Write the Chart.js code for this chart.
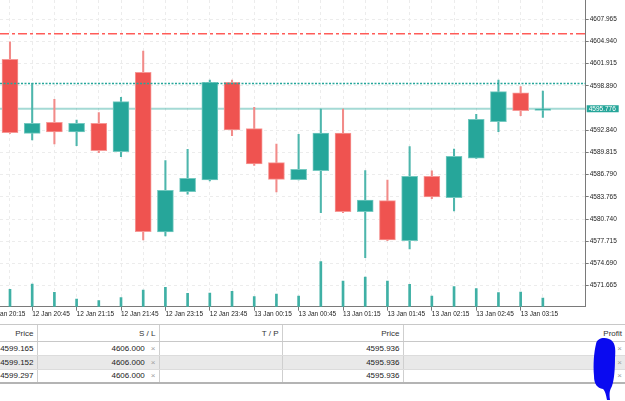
<!DOCTYPE html>
<html>
<head>
<meta charset="utf-8">
<script src="https://cdn.jsdelivr.net/npm/chart.js@4.4.1/dist/chart.umd.min.js"></script>
<style>
  body { margin: 0; width: 625px; height: 401px; overflow: hidden; background: #fff; }
  #wrap { position: relative; width: 625px; height: 324px; }
  #orders { position: absolute; left: 0; top: 324px; width: 625px; border-collapse: collapse; table-layout: fixed;
            font-family: "Liberation Sans", Arial, sans-serif; font-size: 8px; color: #222; }
  #orders th, #orders td { padding: 0 3px 0 0; text-align: right; white-space: nowrap; overflow: hidden;
            border-left: 1px solid #cfcfcf; border-bottom: 1px solid #dcdcdc; }
  #orders th:first-child, #orders td:first-child { border-left: none; }
  #orders th { font-weight: normal; height: 16px; border-top: 1px solid #c8c8c8; border-bottom: 1px solid #c8c8c8; color: #333; }
  #orders td { height: 12.8px; }
  #orders tr.alt td { background: #e9e9e9; }
  #orders tr:last-child td { border-bottom: 2px solid #b4b4b4; }
  .x { color: #a0a0a0; margin-left: 6px; }
  #blot { position: absolute; left: 590px; top: 336px; }
</style>
</head>
<body>
<div id="wrap"><canvas id="price_chart" width="625" height="324"></canvas></div>
<table id="orders">
  <colgroup><col style="width:37px"><col style="width:122px"><col style="width:123px"><col style="width:121px"><col style="width:222px"></colgroup>
  <thead><tr><th>Price</th><th>S / L</th><th>T / P</th><th>Price</th><th>Profit</th></tr></thead>
  <tbody id="order_rows"></tbody>
</table>
<svg id="blot" width="30" height="66" viewBox="0 0 30 66">
  <path d="M6 8 C7 2 14 1 19 3 C25 5 26 12 25 22 C25 34 24 44 22 50 C20 54 19 56 20 64 L17 64 C16 58 15 55 13 53 C7 52 4 48 4 40 C3 28 4 16 6 8 Z" fill="#0a0af0"/>
</svg>
<script>
// 15 minute slots, candle i sits in slot i + 1
const slots = ['12 Jan 20:15', '12 Jan 20:30', '12 Jan 20:45', '12 Jan 21:00', '12 Jan 21:15', '12 Jan 21:30',
    '12 Jan 21:45', '12 Jan 23:00', '12 Jan 23:15', '12 Jan 23:30', '12 Jan 23:45', '13 Jan 00:00', '13 Jan 00:15',
    '13 Jan 00:30', '13 Jan 00:45', '13 Jan 01:00', '13 Jan 01:15', '13 Jan 01:30', '13 Jan 01:45', '13 Jan 02:00',
    '13 Jan 02:15', '13 Jan 02:30', '13 Jan 02:45', '13 Jan 03:00', '13 Jan 03:15', '13 Jan 03:30']
const opens = [4602.52, 4592.43, 4593.93, 4592.61, 4593.79, 4589.92, 4600.74, 4578.98, 4584.47, 4586.07, 4599.38, 4593.06,
    4588.43, 4586.11, 4587.34, 4592.47, 4581.75, 4583.25, 4577.80, 4586.57, 4583.66, 4589.03, 4594.01, 4597.96, 4595.55]
const highs = [4604.91, 4599.24, 4597.06, 4594.24, 4595.24, 4597.34, 4603.65, 4588.70, 4590.25, 4599.69, 4599.69, 4595.97,
    4590.97, 4592.30, 4595.74, 4595.74, 4587.34, 4586.07, 4590.61, 4587.30, 4590.29, 4595.02, 4599.69, 4598.78, 4598.20]
const lows = [4592.40, 4591.52, 4590.97, 4590.74, 4589.79, 4589.24, 4577.89, 4578.44, 4584.12, 4585.93, 4592.10, 4588.04,
    4584.43, 4586.07, 4581.61, 4581.61, 4575.48, 4577.80, 4576.67, 4583.52, 4581.84, 4589.00, 4592.65, 4594.83, 4594.61]
const closes = [4592.51, 4593.79, 4592.61, 4593.79, 4590.06, 4596.74, 4579.02, 4584.67, 4586.30, 4599.38, 4592.88, 4588.25,
    4586.16, 4587.53, 4592.47, 4581.75, 4583.34, 4577.89, 4586.57, 4583.75, 4589.30, 4594.34, 4598.10, 4595.51, 4595.776]
const volumes = [174, 227, 144, 77, 60, 90, 167, 194, 134, 137, 154, 100, 127, 107, 450, 257, 297, 257, 224, 107, 200,
    180, 140, 147, 87]
const priceTicks = [4571.665, 4574.690, 4577.715, 4580.740, 4583.765, 4586.790, 4589.815, 4592.840, 4595.865,
    4598.890, 4601.915, 4604.940, 4607.965]
const stopLoss = 4606.0
const entryPrice = 4599.205
const lastPrice = 4595.776

const orderPrices = ['4599.165', '4599.152', '4599.297']
const orderSL = ['4606.000', '4606.000', '4606.000']
const orderTP = ['', '', '']
const orderNow = ['4595.936', '4595.936', '4595.936']

const up = '#26a69a', down = '#ef5350'
const xMin = -0.45, xMax = 25.93

let rows = ''
orderPrices.forEach((p, i) => {
    rows += '<tr' + (i === 1 ? ' class="alt"' : '') + '><td>' + p + '</td><td>' + orderSL[i] + '<span class="x">&#215;</span></td><td>' +
        orderTP[i] + '</td><td>' + orderNow[i] + '</td><td><span class="x">&#215;</span></td></tr>'
})
document.querySelector('#order_rows').innerHTML = rows

const idx = closes.map((c, i) => i)
const isUp = i => closes[i] >= opens[i]
const flat = v => [{x: xMin, y: v}, {x: xMax, y: v}]
const tickFont = {family: 'Liberation Sans', size: 6.5}

// price tag on the right axis
const lastTag = {
    id: 'lastTag',
    afterDraw(chart) {
        const ctx = chart.ctx
        const y = chart.scales.y.getPixelForValue(lastPrice)
        const x = chart.chartArea.right + 1
        ctx.save()
        ctx.fillStyle = up
        ctx.fillRect(x, y - 3.5, 32, 7)
        ctx.fillStyle = '#fff'
        ctx.font = '6.5px "Liberation Sans"'
        ctx.textBaseline = 'middle'
        ctx.fillText(lastPrice.toFixed(3), x + 2, y + 0.5)
        ctx.restore()
    }
}

let context = document.querySelector('#price_chart').getContext('2d')
new Chart(context, {
    type: 'bar',
    data: {
        datasets: [{
            data: idx.map(i => ({x: i, y: [opens[i], closes[i]]})),
            backgroundColor: idx.map(i => isUp(i) ? up : down),
            borderColor: idx.map(i => isUp(i) ? '#74c9c0' : '#f69896'),
            borderWidth: 1,
            borderSkipped: false,
            barThickness: 16,
            grouped: false,
            order: 1,
        }, {
            data: idx.map(i => ({x: i, y: [lows[i], highs[i]]})),
            backgroundColor: idx.map(i => isUp(i) ? '#4db6ac' : '#f28b89'),
            barThickness: 1.4,
            grouped: false,
            order: 2,
        }, {
            data: idx.map(i => ({x: i, y: volumes[i]})),
            backgroundColor: '#3fb0a5',
            barThickness: 2,
            grouped: false,
            yAxisID: 'vol',
            order: 3,
        }, {
            type: 'line',
            data: flat(lastPrice),
            borderColor: 'rgba(38,166,154,0.42)',
            borderWidth: 2,
            pointRadius: 0,
            order: 4,
        }, {
            type: 'line',
            data: flat(entryPrice),
            borderColor: up,
            borderWidth: 1.5,
            borderDash: [2, 1.5],
            pointRadius: 0,
            order: 0,
        }, {
            type: 'line',
            data: flat(stopLoss),
            backgroundColor: '#ff5c58',
            borderColor: '#ff5c58',
            borderWidth: 1.6,
            borderDash: [9, 3, 3, 3],
            pointRadius: 0,
            order: 0,
        }],
    },
    options: {
        responsive: false,
        animation: false,
        layout: {padding: 0},
        plugins: {legend: {display: false}, tooltip: {enabled: false}},
        scales: {
            x: {
                type: 'linear',
                min: xMin,
                max: xMax,
                offset: false,
                afterBuildTicks: s => { s.ticks = slots.map((t, i) => ({value: i - 1})) },
                afterFit: s => { s.height = 17.3; s.paddingLeft = 0; s.paddingRight = 0 },
                grid: {
                    offset: false,
                    color: '#ececec',
                    tickLength: 4,
                    tickColor: c => (c.tick && Math.abs(c.tick.value % 2) === 1) ? '#7a7a7a' : 'rgba(0,0,0,0)',
                },
                border: {color: '#7a7a7a', dash: [3, 3]},
                ticks: {
                    autoSkip: false,
                    maxRotation: 0,
                    minRotation: 0,
                    align: 'start',
                    padding: 0,
                    color: '#222',
                    font: tickFont,
                    callback: v => (Math.abs(v % 2) === 1 && slots[v + 1]) ? slots[v + 1] : '',
                },
            },
            y: {
                position: 'right',
                min: 4568.80,
                max: 4610.595,
                afterBuildTicks: s => { s.ticks = priceTicks.filter(v => Math.abs(v - lastPrice) > 1).map(v => ({value: v})) },
                afterFit: s => { s.width = 39.3; s.paddingTop = 0; s.paddingBottom = 0 },
                grid: {color: '#ececec', tickLength: 3, tickColor: '#7a7a7a'},
                border: {color: '#7a7a7a', dash: [3, 3]},
                ticks: {
                    autoSkip: false,
                    padding: 1,
                    color: '#222',
                    font: tickFont,
                    callback: v => v.toFixed(3),
                },
            },
            vol: {
                display: false,
                min: 0,
                max: 3067,
            },
        },
    },
    plugins: [lastTag],
})
</script>
</body>
</html>
